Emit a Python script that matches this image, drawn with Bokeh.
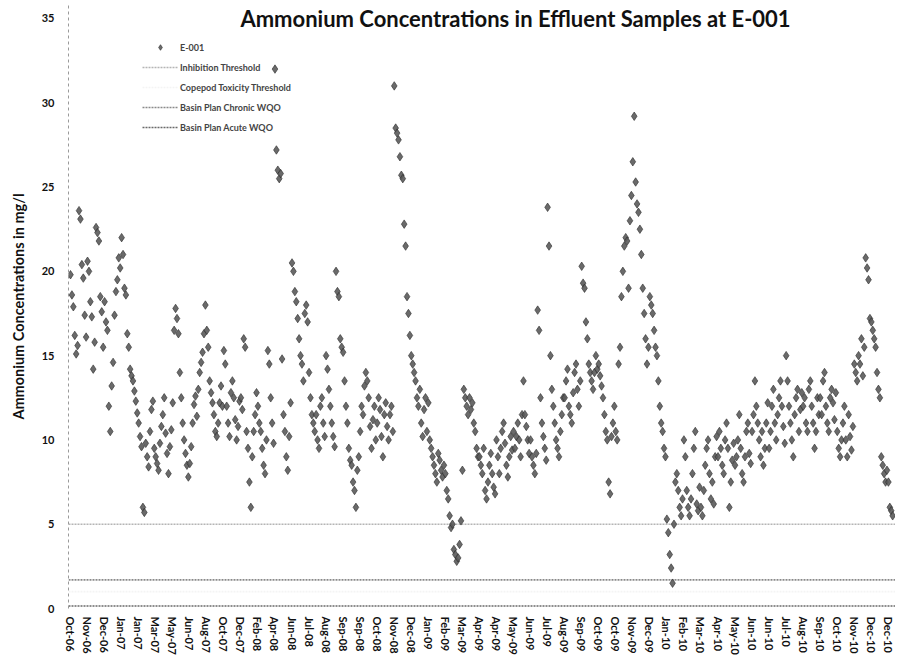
from bokeh.plotting import figure
from bokeh.models import Range1d, FixedTicker, Label, Legend, LegendItem, AllLabels
from bokeh.embed import file_html
from bokeh.resources import INLINE

FONT = "Lato"

tick_labels = ["Oct-06", "Nov-06", "Dec-06", "Jan-07", "Jan-07", "Mar-07", "May-07", "Jun-07",
               "Aug-07", "Oct-07", "Dec-07", "Feb-08", "Apr-08", "Jun-08", "Jul-08", "Aug-08",
               "Sep-08", "Sep-08", "Oct-08", "Nov-08", "Dec-08", "Jan-09", "Feb-09", "Mar-09",
               "Apr-09", "Apr-09", "May-09", "Jun-09", "Jul-09", "Aug-09", "Sep-09", "Oct-09",
               "Oct-09", "Nov-09", "Dec-09", "Jan-10", "Feb-10", "Mar-10", "Apr-10", "May-10",
               "Jun-10", "Jun-10", "Jul-10", "Aug-10", "Sep-10", "Oct-10", "Nov-10", "Dec-10",
               "Dec-10"]
samples_per_label = 12

# E-001 ammonium (mg/l), in sample order
conc_2006 = [19.8, 18.6, 17.9, 16.2, 15.1, 15.6, 23.6, 23.1, 20.4, 19.6, 17.4, 16.1,
             20.6, 20.0, 18.2, 17.3, 14.2, 15.8, 22.6, 22.3, 21.8, 18.5, 17.6, 15.5,
             18.2, 17.0, 16.5, 12.0, 10.5, 13.2, 14.6, 17.4, 18.8, 19.5, 20.8, 20.2]
conc_2007 = [22.0, 21.0, 19.0, 18.6, 16.3, 15.5, 14.2, 13.8, 13.5, 12.9, 12.3, 11.6,
             11.0, 10.2, 9.6, 6.0, 5.7, 9.8, 9.0, 8.4, 10.5, 11.8, 12.3, 9.5,
             9.0, 8.6, 8.2, 9.8, 10.8, 11.5, 12.5, 10.4, 9.2, 8.0, 9.6, 10.6,
             12.2, 16.5, 17.8, 17.2, 16.3, 14.0, 12.5, 11.0, 10.0, 9.2, 8.5, 7.8,
             8.6, 9.6, 11.0, 12.1, 12.6, 11.4, 13.0, 14.0, 14.6, 15.2, 16.3, 18.0,
             16.5, 15.5, 13.5, 12.8, 12.2, 11.5, 10.5, 10.2, 11.0, 12.2, 13.2, 12.0,
             15.3, 14.5, 12.0, 11.0, 10.2, 12.8, 13.5, 12.5, 11.2, 10.0, 10.8, 12.3,
             12.5, 11.8, 16.0, 15.5, 10.5, 9.5, 7.5, 6.0, 9.0, 10.5, 11.5, 12.8]
conc_2008 = [12.0, 11.0, 10.5, 9.5, 8.5, 8.0, 10.0, 15.3, 14.5, 12.5, 11.0, 9.8,
             32.0, 27.2, 26.0, 25.5, 25.8, 14.8, 11.5, 10.5, 9.0, 8.2, 10.2, 12.2,
             20.5, 20.0, 18.8, 18.2, 17.2, 16.0, 15.0, 14.5, 13.5, 17.5, 18.0, 17.0,
             14.0, 12.5, 11.5, 11.0, 10.5, 11.5, 10.0, 9.5, 12.0, 12.5, 11.0, 10.2,
             15.0, 14.2, 13.0, 12.0, 11.0, 10.2, 9.6, 20.0, 18.8, 18.5, 16.0, 15.5,
             15.2, 13.5, 12.0, 11.0, 9.5, 8.8, 8.5, 7.5, 7.0, 6.0, 8.2, 9.0,
             10.5, 12.0, 11.5, 13.2, 14.0, 13.5, 12.5, 10.8, 9.5, 11.2, 12.0, 10.0,
             11.0, 12.5, 11.8, 10.2, 9.0, 11.5, 12.2, 10.8, 10.0, 11.5, 12.0, 10.5,
             31.0, 28.5, 28.2, 27.8, 26.8, 25.7, 25.5, 22.8, 21.5, 18.5, 17.5, 16.2,
             15.0, 14.5, 14.0, 13.5, 12.5, 12.0, 13.0, 11.0, 10.2, 11.8, 12.5, 10.5]
conc_2009 = [12.2, 10.0, 9.5, 9.0, 8.5, 8.0, 7.5, 9.2, 8.8, 8.2, 7.8, 8.5,
             8.0, 7.0, 6.5, 5.5, 4.8, 5.0, 3.5, 3.2, 2.8, 3.0, 3.8, 5.2,
             8.2, 13.0, 12.5, 12.0, 11.5, 12.5, 11.8, 12.2, 11.0, 10.5, 9.5, 9.0,
             9.0, 8.5, 8.0, 9.5, 7.0, 6.5, 7.5, 8.5, 9.2, 8.0, 7.2, 6.8,
             10.0, 9.0, 8.0, 9.5, 10.5, 11.0, 9.8, 8.5, 7.8, 9.0, 10.2, 9.4,
             10.5, 9.5, 10.2, 11.0, 10.0, 9.0, 11.5, 13.5, 11.5, 10.8, 10.0, 9.2,
             10.0, 9.0, 8.5, 8.0, 9.2, 17.7, 16.5, 12.5, 11.0, 10.2, 9.5, 8.8,
             23.8, 21.5, 15.0, 13.0, 12.0, 11.0, 10.0, 9.5, 9.0, 10.5, 11.5, 12.5,
             12.5, 13.5, 14.2, 12.0, 11.5, 11.0, 12.8, 14.0, 14.5, 13.0, 12.0, 13.5,
             20.3, 19.3, 19.0, 17.0, 16.0, 14.5, 14.0, 13.5, 13.0, 14.0, 15.0, 14.2,
             14.5, 13.8, 13.2, 12.5, 11.5, 10.5, 10.0, 7.5, 6.8, 10.2, 11.0, 12.0,
             10.5, 10.0, 14.5, 15.5, 18.5, 20.0, 21.5, 22.0, 21.8, 19.0, 23.0, 24.5,
             26.5, 29.2, 25.3, 24.0, 23.5, 22.5, 21.0, 19.0, 17.5, 16.0, 14.5, 15.5,
             18.5, 18.0, 17.5, 16.5, 15.5, 15.0, 13.5, 12.0, 11.0, 10.5, 9.5, 9.0]
conc_2010 = [5.3, 4.5, 3.2, 2.4, 1.5, 5.0, 7.5, 8.0, 7.0, 6.0, 5.5, 6.5,
             10.0, 9.0, 7.0, 6.0, 5.5, 6.5, 8.0, 9.5, 10.5, 6.2, 5.8, 7.2,
             6.0, 5.5, 7.0, 8.5, 9.5, 10.0, 8.0, 6.5, 7.5, 6.2, 9.0, 10.2,
             9.0, 10.5, 9.5, 8.5, 8.0, 10.0, 11.0, 9.5, 6.0, 7.5, 8.8, 9.8,
             8.5, 9.0, 10.0, 11.5, 9.5, 8.0, 7.5, 9.0, 10.5, 11.0, 9.2, 8.6,
             10.5, 11.5, 13.5, 12.0, 11.0, 10.0, 9.0, 10.5, 8.5, 9.5, 11.0, 12.2,
             9.5, 10.5, 12.0, 13.0, 11.0, 10.0, 11.5, 12.5, 13.5, 12.0, 10.8, 9.8,
             15.0, 13.5, 12.0, 11.0, 10.0, 9.0, 11.5, 12.5, 13.0, 10.5, 11.8, 12.8,
             12.0, 12.5, 11.0, 10.5, 13.0, 13.5, 12.0, 11.0, 9.5, 10.5, 12.5, 11.5,
             12.5, 11.5, 13.5, 14.0, 12.0, 11.0, 10.5, 12.5, 13.0, 12.2, 11.2, 12.8,
             10.5, 9.5, 9.0, 10.0, 11.0, 12.0, 10.0, 9.0, 11.5, 10.2, 9.4, 10.8,
             14.5, 14.0, 13.5, 15.0, 14.5, 16.0, 13.8, 15.5, 20.8, 20.2, 19.5, 17.2,
             17.0, 16.5, 16.0, 15.5, 14.0, 13.0, 12.5, 9.0, 8.5, 8.0, 7.5, 8.2,
             7.5, 6.0, 5.8, 5.5]

threshold_names = ["Inhibition Threshold", "Copepod Toxicity Threshold",
                   "Basin Plan Chronic WQO", "Basin Plan Acute WQO"]
threshold_values = [5.0, 1.0, 1.7, 0.15]
threshold_colors = ["#b5b5b5", "#f4f4f4", "#8a8a8a", "#6a6a6a"]

conc = conc_2006 + conc_2007 + conc_2008 + conc_2009 + conc_2010
sample_idx = list(range(len(conc)))

p = figure(width=895, height=660, output_backend="svg", toolbar_location=None,
           x_range=Range1d(-1.41, 581.0), y_range=Range1d(0, 35.83),
           min_border_left=68, min_border_right=0, min_border_top=4, min_border_bottom=52)
p.outline_line_color = None
p.xgrid.visible = False
p.ygrid.visible = False
p.background_fill_color = "white"

line_renderers = []
for name, val, col in zip(threshold_names, threshold_values, threshold_colors):
    r = p.line([p.x_range.start, p.x_range.end], [val, val], line_color=col,
               line_width=1.6, line_dash="2 1")
    line_renderers.append((name, r))

sc = p.scatter(sample_idx, conc, marker="diamond", size=8.5, fill_color="#5a5a5a",
               line_color="#2a2a2a", line_width=0.6, fill_alpha=0.9)

items = [LegendItem(label="E-001", renderers=[sc])]
for name, r in line_renderers:
    items.append(LegendItem(label=name, renderers=[r]))

legend = Legend(items=items, location=(74, 473), orientation="vertical",
                background_fill_alpha=0, border_line_color=None,
                label_text_font=FONT, label_text_font_style="bold", label_text_font_size="9px",
                glyph_width=36, glyph_height=14, label_height=16, spacing=4, padding=4,
                label_standoff=2)
p.add_layout(legend, "center")

p.yaxis.ticker = FixedTicker(ticks=[0, 5, 10, 15, 20, 25, 30, 35])
p.yaxis.axis_label = "Ammonium Concentrations in mg/l"
p.yaxis.axis_label_text_font = FONT
p.yaxis.axis_label_text_font_style = "bold"
p.yaxis.axis_label_text_font_size = "14.5px"
p.yaxis.axis_label_text_color = "#111111"
p.yaxis.axis_label_standoff = 12
p.yaxis.major_label_text_font = FONT
p.yaxis.major_label_text_font_style = "bold"
p.yaxis.major_label_text_font_size = "11px"
p.yaxis.major_label_text_color = "#111111"
p.yaxis.major_label_standoff = 14
p.yaxis.major_tick_line_color = None
p.yaxis.major_tick_out = 0
p.yaxis.major_tick_in = 0
p.yaxis.minor_tick_line_color = None
p.yaxis.axis_line_color = "#9a9a9a"
p.yaxis.axis_line_dash = "3 3"

tick_pos = [i * samples_per_label for i in range(len(tick_labels))]
p.xaxis.ticker = FixedTicker(ticks=tick_pos)
p.xaxis.major_label_overrides = {t: lab for t, lab in zip(tick_pos, tick_labels)}
p.xaxis.major_label_policy = AllLabels()
p.xaxis.major_label_orientation = "vertical"
p.xaxis.major_label_text_font = FONT
p.xaxis.major_label_text_font_style = "bold"
p.xaxis.major_label_text_font_size = "11px"
p.xaxis.major_label_text_color = "#111111"
p.xaxis.major_label_standoff = 8
p.xaxis.major_tick_line_color = None
p.xaxis.major_tick_out = 0
p.xaxis.major_tick_in = 0
p.xaxis.minor_tick_line_color = None
p.xaxis.axis_line_color = None

title = Label(x=313.4, y=35.0, text="Ammonium Concentrations in Effluent Samples at E-001",
              text_font=FONT, text_font_style="bold", text_font_size="22px",
              text_align="center", text_baseline="middle", text_color="#111111")
p.add_layout(title)

open("out.html", "w").write(file_html(p, INLINE))
